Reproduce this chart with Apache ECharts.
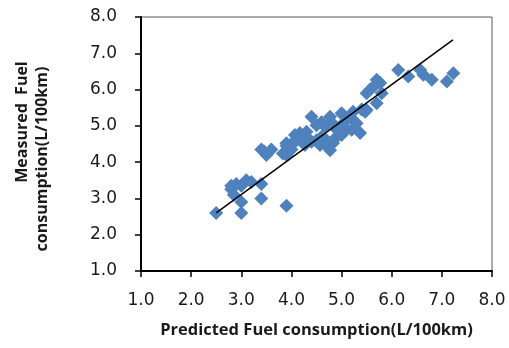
<!DOCTYPE html>
<html>
<head>
<meta charset="utf-8">
<script src="https://cdn.jsdelivr.net/npm/echarts@6/dist/echarts.min.js"></script>
<style>html,body{margin:0;padding:0;background:#fff;}#c{width:509px;height:348px;}</style>
</head>
<body>
<div id="c"></div>
<script>
var xTitle = 'Predicted Fuel consumption(L/100km)';
var yTitleLines = ['Measured  Fuel', 'consumption(L/100km)'];
var axisMin = 1, axisMax = 8, axisStep = 1;

var predicted = [
  2.5, 3.0, 3.4, 3.9, 2.8, 2.9, 3.1, 3.2, 3.4, 3.0, 2.85, 2.8, 3.0,
  3.4, 3.5, 3.6, 3.45, 3.9, 3.9, 4.0, 4.0, 4.1,
  3.9, 4.07, 4.17, 4.3, 4.5, 4.4, 4.77, 5.0, 5.1, 5.3, 5.47, 5.7, 5.2, 4.9, 4.77, 4.57, 4.4, 4.27, 3.83, 4.83, 4.67, 4.97, 5.37,
  4.2, 4.6, 4.7, 4.9, 5.0, 5.1, 4.8, 4.6, 5.2, 5.0, 4.7, 4.5, 4.3,
  5.03, 5.23, 5.5, 5.5, 5.57, 5.7, 5.77, 5.65, 6.13, 6.33, 6.57, 6.63, 6.8, 7.1, 7.23, 5.8, 5.4
];
var measured = [
  2.6, 2.6, 3.0, 2.8, 3.35, 3.4, 3.5, 3.45, 3.4, 2.9, 3.1, 3.25, 3.35,
  4.35, 4.2, 4.35, 4.3, 4.45, 4.2, 4.35, 4.5, 4.6,
  4.52, 4.75, 4.8, 4.84, 5.02, 5.25, 5.25, 5.35, 5.16, 5.07, 5.39, 5.62, 4.89, 4.7, 4.33, 4.47, 4.56, 4.47, 4.24, 4.53, 4.98, 4.98, 4.8,
  4.65, 4.7, 4.6, 4.9, 5.0, 4.9, 5.1, 5.1, 5.2, 4.75, 4.45, 4.6, 4.7,
  5.3, 5.39, 5.44, 5.9, 6.0, 6.27, 6.18, 6.1, 6.54, 6.36, 6.54, 6.41, 6.27, 6.22, 6.45, 5.9, 5.45
];
var trendX = [2.5, 7.22];
var trendY = [2.6, 7.37];

var pts = predicted.map(function (x, i) { return [x, measured[i]]; });
var trend = trendX.map(function (x, i) { return [x, trendY[i]]; });

var labelFont = 'DejaVu Sans';
var titleFont = 'Open Sans';

var chart = echarts.init(document.getElementById('c'), null, {renderer: 'canvas'});
chart.setOption({
  animation: false,
  backgroundColor: '#fff',
  grid: {left: 141, right: 17, top: 17, bottom: 77, show: true, borderColor: '#595959', borderWidth: 1, backgroundColor: 'transparent'},
  xAxis: {
    type: 'value', min: axisMin, max: axisMax, interval: axisStep,
    axisLine: {show: true, onZero: false, lineStyle: {color: '#000', width: 2}},
    axisTick: {show: true, inside: false, length: 6, lineStyle: {color: '#000', width: 1.5}},
    axisLabel: {margin: 21, color: '#1a1a1a', fontFamily: labelFont, fontSize: 17, formatter: function (v) { return v.toFixed(1); }},
    splitLine: {show: false},
    name: xTitle, nameLocation: 'middle', nameGap: 51,
    nameTextStyle: {fontFamily: titleFont, fontWeight: 'bold', fontSize: 16.5, color: '#1a1a1a'}
  },
  yAxis: {
    type: 'value', min: axisMin, max: axisMax, interval: axisStep,
    axisLine: {show: true, onZero: false, lineStyle: {color: '#000', width: 2}},
    axisTick: {show: true, inside: false, length: 6, lineStyle: {color: '#000', width: 1.5}},
    axisLabel: {margin: 24, color: '#1a1a1a', fontFamily: labelFont, fontSize: 17, formatter: function (v) { return v.toFixed(1); }},
    splitLine: {show: false}
  },
  graphic: [
    {type: 'text', x: 22, y: 122, rotation: Math.PI / 2,
     style: {text: yTitleLines[0], align: 'center', verticalAlign: 'middle', fontFamily: titleFont, fontWeight: 'bold', fontSize: 16, fill: '#1a1a1a'}},
    {type: 'text', x: 42, y: 159, rotation: Math.PI / 2,
     style: {text: yTitleLines[1], align: 'center', verticalAlign: 'middle', fontFamily: titleFont, fontWeight: 'bold', fontSize: 16, fill: '#1a1a1a'}}
  ],
  series: [
    {type: 'scatter', data: pts, symbol: 'diamond', symbolSize: 14, itemStyle: {color: '#4F81BD', opacity: 1}, z: 2},
    {type: 'line', data: trend, symbol: 'none', lineStyle: {color: '#000', width: 1.5}, z: 3}
  ]
});
</script>
</body>
</html>
